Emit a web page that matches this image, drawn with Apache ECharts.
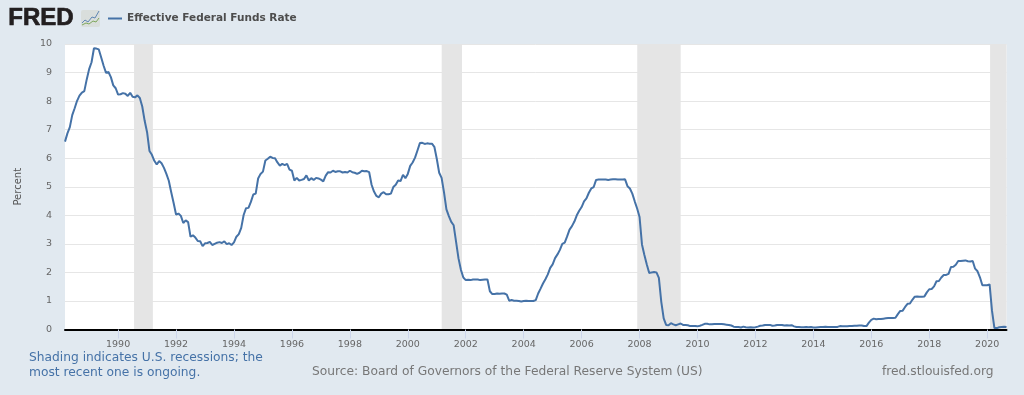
<!DOCTYPE html>
<html>
<head>
<meta charset="utf-8">
<style>
  html, body { margin: 0; padding: 0; background: #e1e9f0; }
  #chart { width: 1024px; height: 395px; }
</style>
<script src="https://cdn.jsdelivr.net/npm/echarts@6/dist/echarts.min.js"></script>
</head>
<body>
<div id="chart"></div>
<script>
const seriesName = "Effective Federal Funds Rate";
const yTicks = [0, 1, 2, 3, 4, 5, 6, 7, 8, 9, 10];
const xTickYears = [1990, 1992, 1994, 1996, 1998, 2000, 2002, 2004, 2006, 2008, 2010, 2012, 2014, 2016, 2018, 2020];

// first value is March 1988, then one value per month
const firstYear = 1988;
const firstMonth = 2;
const rates = [
  6.58, 6.87, 7.09, 7.51, 7.75, 8.01, 8.19, 8.30, 8.35, 8.76,
  9.12, 9.36, 9.85, 9.84, 9.81, 9.53, 9.24, 8.99, 9.02, 8.84, 8.55, 8.45,
  8.23, 8.24, 8.28, 8.26, 8.18, 8.29, 8.15, 8.13, 8.20, 8.11, 7.81, 7.31,
  6.91, 6.25, 6.12, 5.91, 5.78, 5.90, 5.82, 5.66, 5.45, 5.21, 4.81, 4.43,
  4.03, 4.06, 3.98, 3.73, 3.82, 3.76, 3.25, 3.30, 3.22, 3.10, 3.09, 2.92,
  3.02, 3.03, 3.07, 2.96, 3.00, 3.04, 3.06, 3.03, 3.09, 2.99, 3.02, 2.96,
  3.05, 3.25, 3.34, 3.56, 4.01, 4.25, 4.26, 4.47, 4.73, 4.76, 5.29, 5.45,
  5.53, 5.92, 5.98, 6.05, 6.01, 6.00, 5.85, 5.74, 5.80, 5.76, 5.80, 5.60,
  5.56, 5.22, 5.31, 5.22, 5.24, 5.27, 5.40, 5.22, 5.30, 5.24, 5.31, 5.29,
  5.25, 5.19, 5.39, 5.51, 5.50, 5.56, 5.52, 5.54, 5.54, 5.50, 5.52, 5.50,
  5.56, 5.51, 5.49, 5.45, 5.49, 5.56, 5.54, 5.55, 5.51, 5.07, 4.83, 4.68,
  4.63, 4.76, 4.81, 4.74, 4.74, 4.76, 4.99, 5.07, 5.22, 5.20, 5.42, 5.30,
  5.45, 5.73, 5.85, 6.02, 6.27, 6.53, 6.54, 6.50, 6.52, 6.51, 6.51, 6.40,
  5.98, 5.49, 5.31, 4.80, 4.21, 3.97, 3.77, 3.65, 3.07, 2.49, 2.09, 1.82,
  1.73, 1.74, 1.73, 1.75, 1.75, 1.75, 1.73, 1.74, 1.75, 1.75, 1.34, 1.24,
  1.24, 1.26, 1.25, 1.26, 1.26, 1.22, 1.01, 1.03, 1.01, 1.01, 1.00, 0.98,
  1.00, 1.01, 1.00, 1.00, 1.00, 1.03, 1.26, 1.43, 1.61, 1.76, 1.93, 2.16,
  2.28, 2.50, 2.63, 2.79, 3.00, 3.04, 3.26, 3.50, 3.62, 3.78, 4.00, 4.16,
  4.29, 4.49, 4.59, 4.79, 4.94, 4.99, 5.24, 5.25, 5.25, 5.25, 5.25, 5.24,
  5.25, 5.26, 5.26, 5.25, 5.25, 5.25, 5.26, 5.02, 4.94, 4.76, 4.49, 4.24,
  3.94, 2.98, 2.61, 2.28, 1.98, 2.00, 2.01, 2.00, 1.81, 0.97, 0.39, 0.16,
  0.15, 0.22, 0.18, 0.15, 0.18, 0.21, 0.16, 0.16, 0.15, 0.12, 0.12, 0.12,
  0.11, 0.13, 0.16, 0.20, 0.20, 0.18, 0.18, 0.19, 0.19, 0.19, 0.19, 0.18,
  0.17, 0.16, 0.14, 0.10, 0.09, 0.09, 0.07, 0.10, 0.08, 0.07, 0.08, 0.07,
  0.08, 0.10, 0.13, 0.14, 0.16, 0.16, 0.16, 0.13, 0.14, 0.16, 0.16, 0.16,
  0.14, 0.15, 0.14, 0.15, 0.11, 0.09, 0.09, 0.08, 0.08, 0.09, 0.08, 0.09,
  0.07, 0.07, 0.08, 0.09, 0.09, 0.10, 0.09, 0.09, 0.09, 0.09, 0.09, 0.12,
  0.11, 0.11, 0.11, 0.12, 0.12, 0.13, 0.13, 0.14, 0.14, 0.12, 0.12, 0.24,
  0.34, 0.38, 0.36, 0.37, 0.37, 0.38, 0.39, 0.40, 0.40, 0.40, 0.41, 0.54,
  0.65, 0.66, 0.79, 0.90, 0.91, 1.04, 1.15, 1.16, 1.15, 1.15, 1.16, 1.30,
  1.41, 1.42, 1.51, 1.69, 1.70, 1.82, 1.91, 1.91, 1.95, 2.19, 2.20, 2.27,
  2.40, 2.40, 2.41, 2.42, 2.39, 2.38, 2.40, 2.13, 2.04, 1.83, 1.55, 1.55,
  1.55, 1.58, 0.65, 0.05, 0.05, 0.08, 0.09, 0.10, 0.09
];

// recession bands in decimal years
const recessionStarts = [1990.55, 2001.17, 2007.92, 2020.1];
const recessionEnds = [1991.2, 2001.87, 2009.42, 2020.67];

const lineData = rates.map((v, i) => [firstYear + (firstMonth + i) / 12, v]);
const bands = recessionStarts.map((s, i) => [{ xAxis: s }, { xAxis: recessionEnds[i] }]);

const font = "DejaVu Sans";
const option = {
  animation: false,
  backgroundColor: "#e1e9f0",
  textStyle: { fontFamily: font },
  grid: { left: 65, right: 17.5, top: 44, bottom: 65.5, show: true, backgroundColor: "#fff", borderWidth: 0 },
  legend: {
    left: 103,
    top: 8,
    icon: "rect",
    itemWidth: 14,
    itemHeight: 2,
    itemGap: 0,
    data: [seriesName],
    textStyle: { color: "#4d4d4d", fontSize: 10.5, fontWeight: "bold", fontFamily: font }
  },
  xAxis: {
    type: "value",
    z: 1.5,
    min: lineData[0][0],
    max: lineData[lineData.length - 1][0],
    axisLine: { onZero: true, lineStyle: { color: "#000", width: 2 } },
    splitLine: { show: false },
    axisTick: {
      length: 9,
      lineStyle: { color: "#ccd6eb", width: 1 },
      customValues: xTickYears
    },
    axisLabel: {
      color: "#666",
      fontSize: 9.5,
      margin: 10,
      hideOverlap: false,
      customValues: xTickYears,
      formatter: v => String(v)
    }
  },
  yAxis: {
    type: "value",
    min: yTicks[0],
    max: yTicks[yTicks.length - 1],
    interval: 1,
    name: "Percent",
    nameLocation: "middle",
    nameGap: 42,
    nameTextStyle: { color: "#555", fontSize: 10 },
    axisLine: { show: false },
    axisTick: { show: false },
    axisLabel: { color: "#666", fontSize: 9.5, margin: 13, padding: [2, 0, 0, 0] },
    splitLine: { lineStyle: { color: "#e6e6e6", width: 1 } }
  },
  series: [{
    name: seriesName,
    type: "line",
    data: lineData,
    showSymbol: false,
    lineStyle: { color: "#4572a7", width: 2 },
    itemStyle: { color: "#4572a7" },
    markArea: { silent: true, itemStyle: { color: "#e5e5e5" }, data: bands }
  }],
  graphic: [
    { type: "text", left: 8, top: 6, style: { text: "FRED", fill: "#231f20", stroke: "#231f20", lineWidth: 0.7, font: "bold 24px 'Liberation Sans'" } },
    { type: "rect", left: 81, top: 10, shape: { width: 19, height: 17, r: 2 }, style: { fill: "#d9dedc" } },
    { type: "polyline", shape: { points: [[82, 23], [85, 20], [88, 22], [92, 17], [95, 18], [99, 11]] }, style: { stroke: "#5f86b3", fill: null, lineWidth: 1 } },
    { type: "polyline", shape: { points: [[82, 25], [86, 23], [89, 24], [93, 21], [96, 22], [99, 18]] }, style: { stroke: "#7fa85c", fill: null, lineWidth: 1 } },
    { type: "text", left: 29, top: 351, style: { text: "Shading indicates U.S. recessions; the\nmost recent one is ongoing.", fill: "#4572a7", font: "12.25px 'DejaVu Sans'", lineHeight: 14.5 } },
    { type: "text", left: 312, top: 366, style: { text: "Source: Board of Governors of the Federal Reserve System (US)", fill: "#777", font: "12.25px 'DejaVu Sans'" } },
    { type: "text", left: 882, top: 366, style: { text: "fred.stlouisfed.org", fill: "#777", font: "12.25px 'DejaVu Sans'" } }
  ]
};

const myChart = echarts.init(document.getElementById("chart"));
myChart.setOption(option);
</script>
</body>
</html>
